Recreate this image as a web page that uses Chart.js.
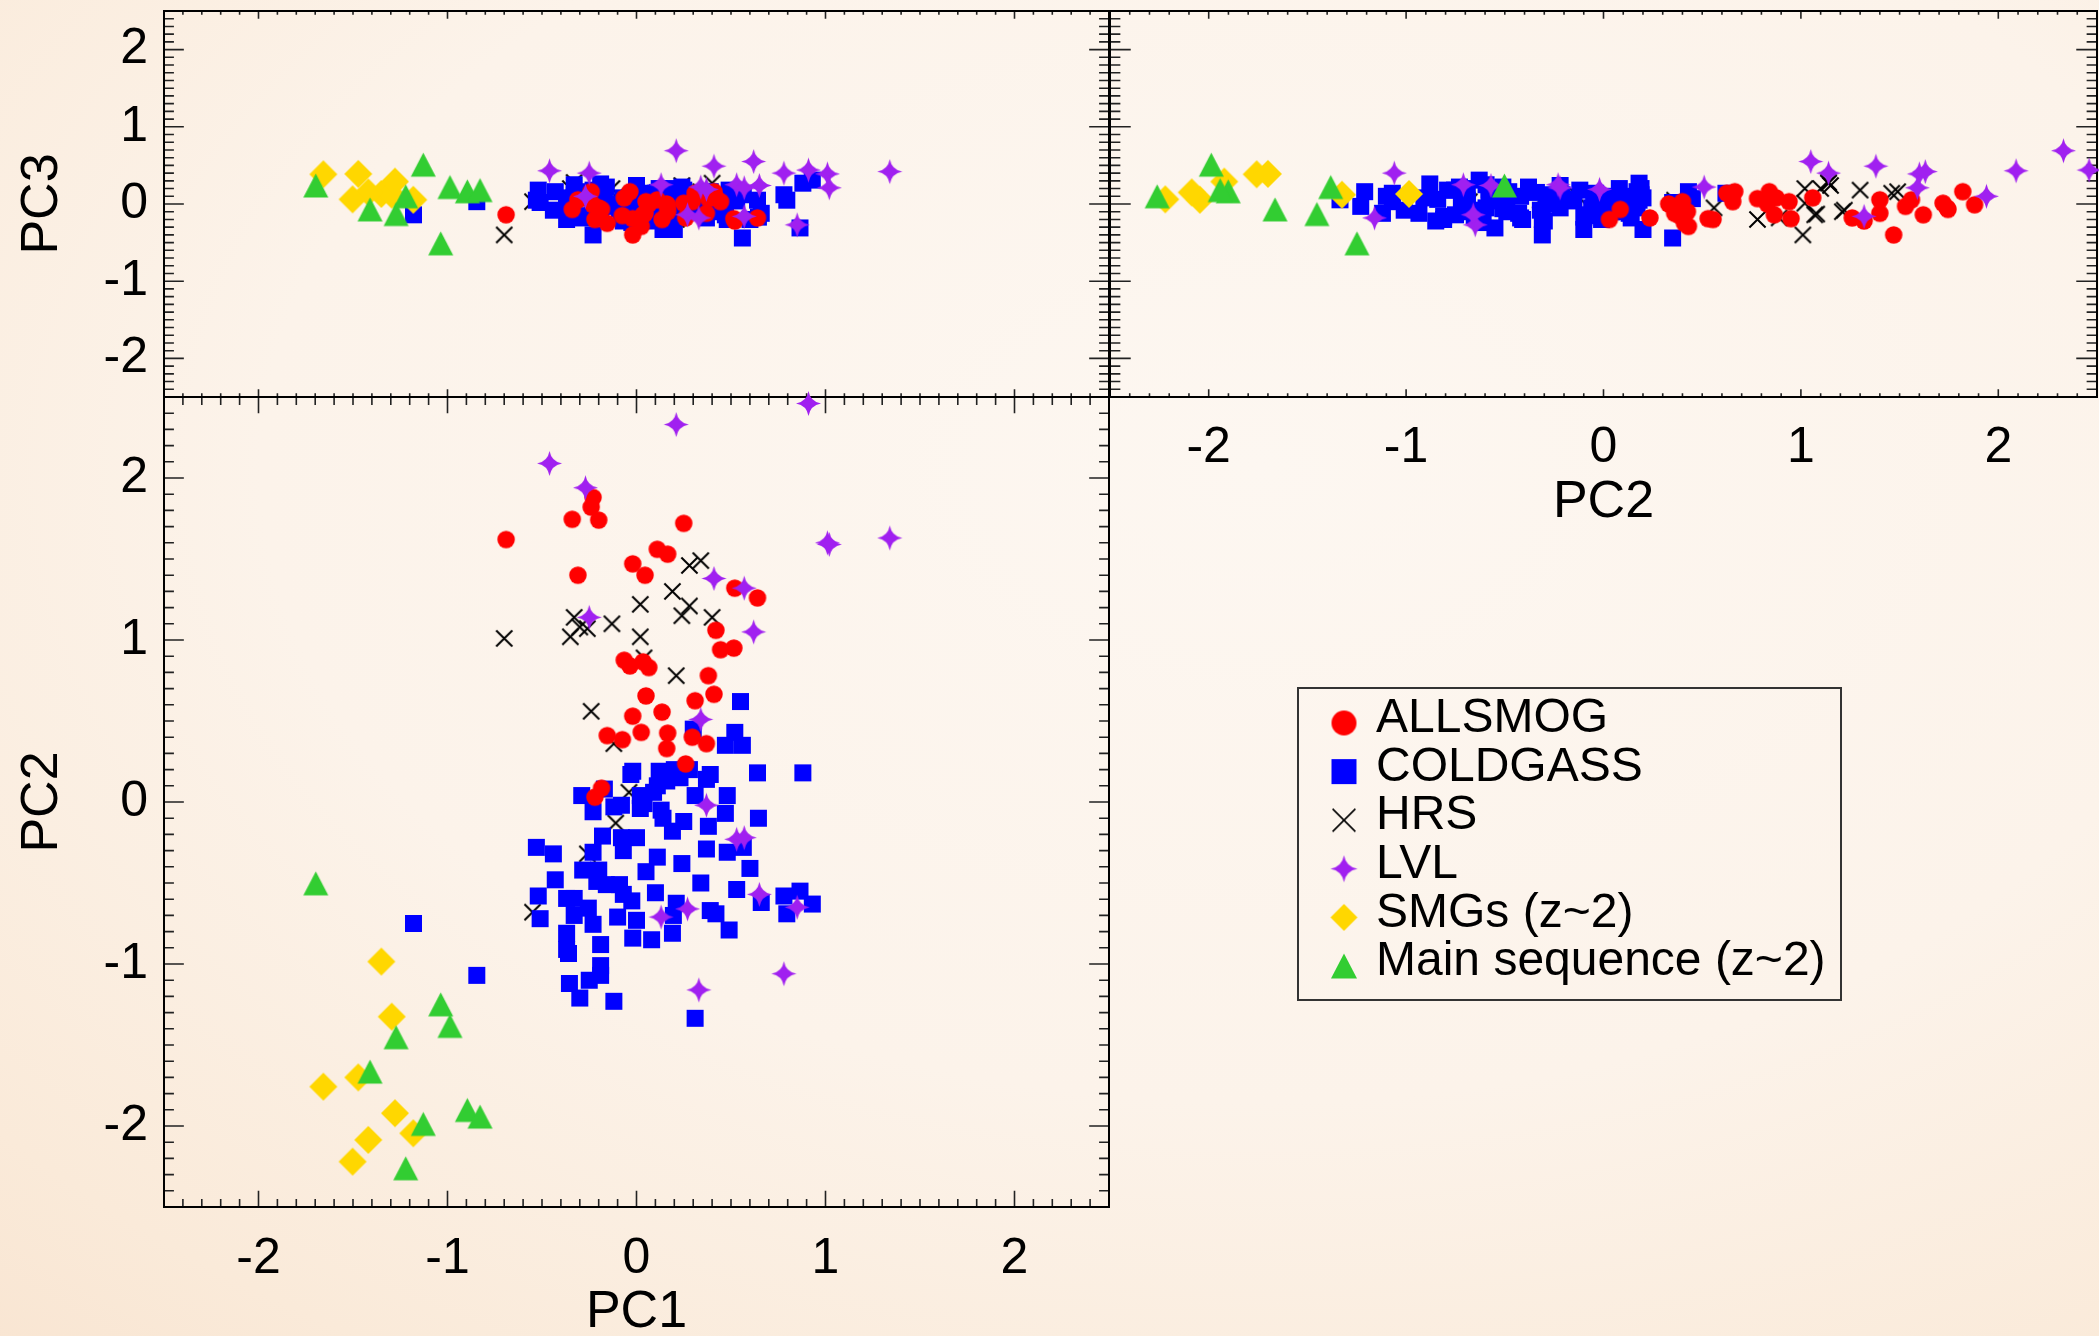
<!DOCTYPE html>
<html>
<head>
<meta charset="utf-8">
<title>PC1 / PC2 / PC3 projections</title>
<script src="https://cdn.jsdelivr.net/npm/chart.js@4.4.1/dist/chart.umd.min.js"></script>
<style>
  html, body { margin: 0; padding: 0; }
  body {
    width: 2099px; height: 1336px; overflow: hidden; position: relative;
    background: radial-gradient(ellipse 95% 95% at 60% 35%, #fdf7f1 0%, #fcf3ea 50%, #faead9 82%, #f8e3cf 100%);
  }
  canvas { position: absolute; left: 0; top: 0; }
</style>
</head>
<body>
<canvas id="pc13" width="2099" height="1336"></canvas>
<canvas id="pc23" width="2099" height="1336"></canvas>
<canvas id="pc12" width="2099" height="1336"></canvas>
<script>
// principal component scores per sample
const ALLSMOG_PC1 = [-0.23, -0.24, -0.34, -0.20, 0.25, -0.69, 0.11, 0.165, -0.02, 0.045, -0.31, 0.52, 0.64, 0.42, 0.445, 0.515, -0.065, -0.035, 0.035, 0.065, 0.38, 0.41, 0.05, 0.31, 0.135, -0.02, -0.155, -0.075, 0.025, 0.165, 0.16, 0.295, 0.37, 0.26, -0.185, -0.22];
const ALLSMOG_PC2 = [1.88, 1.82, 1.745, 1.74, 1.72, 1.62, 1.56, 1.53, 1.47, 1.40, 1.40, 1.32, 1.26, 1.06, 0.94, 0.95, 0.875, 0.84, 0.865, 0.83, 0.78, 0.665, 0.655, 0.625, 0.555, 0.53, 0.41, 0.385, 0.43, 0.425, 0.33, 0.40, 0.36, 0.235, 0.085, 0.03];
const ALLSMOG_PC3 = [-0.01, 0.16, -0.07, -0.05, 0.01, -0.14, 0.055, -0.03, -0.40, -0.12, 0.055, -0.22, -0.18, 0.08, 0.03, -0.19, 0.08, 0.16, -0.14, 0.0, 0.07, 0.16, 0.03, 0.14, -0.20, -0.19, -0.25, -0.15, -0.29, -0.10, 0.0, 0.03, -0.12, -0.18, -0.07, -0.20];

const COLDGASS_PC1 = [0.55, 0.30, 0.52, 0.47, 0.56, 0.64, 0.88, -0.02, -0.03, 0.12, 0.20, 0.28, 0.39, 0.37, 0.23, 0.16, 0.11, 0.09, 0.02, 0.04,
  0.02, 0.13, 0.14, 0.19, 0.25, 0.31, 0.48, 0.47, 0.38, 0.645, -0.29, -0.17, -0.23, -0.12, -0.08, -0.18, -0.08, 0.00, -0.07, -0.23,
  -0.53, -0.44, 0.11, 0.05, 0.24, 0.37, 0.48, 0.565, 0.60, 0.34, -0.285, -0.20, -0.43, -0.21, -0.16, -0.09, -0.07, -0.025, 0.10, 0.21,
  0.195, 0.53, 0.66, 0.78, 0.865, 0.93, 0.795, -0.52, -0.37, -0.33, -0.255, -0.51, -0.33, -0.37, -0.23, -0.10, 0.00, 0.39, 0.42, 0.19,
  -0.02, 0.08, 0.49, -0.37, -0.36, -0.19, -0.19, -0.19, -0.355, -0.25, -0.30, -0.12, 0.31, -0.845, -1.18];
const COLDGASS_PC2 = [0.62, 0.45, 0.43, 0.35, 0.35, 0.18, 0.18, 0.19, 0.17, 0.19, 0.20, 0.20, 0.17, 0.14, 0.15, 0.13, 0.10, 0.06, 0.04, -0.01,
  -0.04, -0.05, -0.10, -0.18, -0.12, 0.04, 0.04, -0.07, -0.15, -0.10, 0.04, 0.08, -0.06, -0.03, -0.02, -0.21, -0.22, -0.22, -0.30, -0.31,
  -0.28, -0.32, -0.34, -0.43, -0.38, -0.29, -0.31, -0.28, -0.41, -0.50, -0.42, -0.42, -0.48, -0.49, -0.51, -0.51, -0.57, -0.61, -0.56, -0.625,
  -0.70, -0.54, -0.62, -0.58, -0.55, -0.63, -0.69, -0.58, -0.595, -0.595, -0.655, -0.72, -0.70, -0.81, -0.755, -0.71, -0.73, -0.67, -0.69, -0.81,
  -0.84, -0.85, -0.79, -0.91, -0.935, -0.88, -1.01, -1.07, -1.12, -1.10, -1.21, -1.23, -1.335, -1.07, -0.75];
const COLDGASS_PC3 = [0.14, 0.07, 0.16, 0.02, -0.44, 0.05, 0.27, 0.12, -0.05, 0.20, -0.33, 0.08, 0.16, -0.18, 0.02, -0.12, 0.10, -0.10, 0.04, -0.20,
  0.14, -0.02, -0.33, 0.06, 0.18, -0.10, 0.10, -0.14, 0.04, -0.17, 0.08, 0.20, -0.05, 0.00, -0.15, 0.12, -0.05, 0.24, -0.22, -0.40,
  0.05, -0.08, 0.15, -0.12, 0.22, 0.00, -0.20, 0.12, -0.20, 0.06, -0.18, 0.10, 0.16, -0.10, 0.22, -0.06, 0.08, -0.24, 0.14, -0.08,
  0.20, 0.04, -0.12, 0.12, -0.31, 0.31, 0.05, 0.18, -0.05, 0.25, -0.15, 0.02, 0.12, -0.20, 0.18, -0.02, 0.22, -0.10, 0.10, -0.16,
  0.06, -0.22, 0.18, 0.08, -0.12, 0.26, -0.08, 0.14, -0.12, 0.10, 0.16, -0.03, 0.055, 0.03, -0.14];

const HRS_PC1 = [0.34, 0.28, 0.19, 0.02, 0.28, 0.24, 0.40, -0.33, -0.35, -0.30, -0.26, -0.13, -0.70, 0.02, 0.04, 0.21, -0.24, -0.12, -0.04, -0.11, -0.26, -0.55];
const HRS_PC2 = [1.49, 1.46, 1.30, 1.22, 1.21, 1.15, 1.14, 1.14, 1.02, 1.08, 1.07, 1.10, 1.01, 1.02, 0.89, 0.78, 0.56, 0.36, 0.06, -0.13, -0.32, -0.68];
const HRS_PC3 = [0.16, 0.14, 0.18, -0.08, -0.10, 0.24, 0.27, 0.28, 0.20, -0.13, -0.14, 0.20, -0.40, 0.01, -0.18, -0.20, -0.05, 0.05, 0.00, 0.10, 0.05, 0.03];

const LVL_PC1 = [0.91, 0.21, -0.46, -0.27, 1.01, 1.02, 1.34, 0.41, 0.57, -0.25, 0.62, 0.34, 0.37, 0.53, 0.57, 0.65, 0.85, 0.13, 0.27, 0.78, 0.33];
const LVL_PC2 = [2.46, 2.33, 2.09, 1.94, 1.60, 1.59, 1.63, 1.38, 1.32, 1.14, 1.05, 0.51, -0.02, -0.23, -0.22, -0.57, -0.65, -0.71, -0.66, -1.06, -1.16];
const LVL_PC3 = [0.44, 0.69, 0.43, 0.10, 0.39, 0.21, 0.42, 0.49, -0.16, 0.40, 0.55, 0.22, 0.19, 0.25, 0.21, 0.24, -0.27, 0.25, -0.14, 0.40, -0.18];

const SMG_PC1 = [-1.35, -1.295, -1.657, -1.472, -1.278, -1.181, -1.419, -1.502];
const SMG_PC2 = [-0.985, -1.325, -1.757, -1.70, -1.921, -2.045, -2.086, -2.22];
const SMG_PC3 = [0.13, 0.12, 0.385, 0.39, 0.29, 0.055, 0.15, 0.06];

const MS_PC1 = [-1.697, -1.036, -0.987, -1.272, -1.41, -0.895, -0.828, -1.128, -1.221];
const MS_PC2 = [-0.502, -1.249, -1.382, -1.452, -1.664, -1.901, -1.942, -1.987, -2.261];
const MS_PC3 = [0.24, -0.51, 0.22, -0.13, -0.07, 0.165, 0.18, 0.51, 0.10];

// every axis runs over the same range with labelled integer ticks
const AXIS_MIN = -2.5;
const AXIS_MAX = 2.5;
const TICK_VALUES = [-2, -1, 0, 1, 2];

const FONT = '"Liberation Sans", Arial, Helvetica, sans-serif';
Chart.defaults.font.family = FONT;

// marker sprites, drawn once and handed to Chart.js as pointStyle
function markerCanvas(shape, color, size, lineW) {
  const c = document.createElement('canvas');
  const pad = 2;
  c.width = c.height = Math.ceil(size) + pad * 2;
  const g = c.getContext('2d');
  g.translate(c.width / 2, c.height / 2);
  g.fillStyle = color;
  g.strokeStyle = color;
  const r = size / 2;
  g.beginPath();
  if (shape === 'circle') {
    g.arc(0, 0, r, 0, Math.PI * 2);
    g.fill();
  } else if (shape === 'square') {
    g.rect(-r, -r, size, size);
    g.fill();
  } else if (shape === 'diamond') {
    g.moveTo(0, -r); g.lineTo(r, 0); g.lineTo(0, r); g.lineTo(-r, 0);
    g.closePath();
    g.fill();
  } else if (shape === 'triangle') {
    const h = r * 0.96;
    g.moveTo(0, -h); g.lineTo(r, h); g.lineTo(-r, h);
    g.closePath();
    g.fill();
  } else if (shape === 'star') {
    const k = r * 0.15;
    g.moveTo(0, -r);
    g.quadraticCurveTo(k, -k, r, 0);
    g.quadraticCurveTo(k, k, 0, r);
    g.quadraticCurveTo(-k, k, -r, 0);
    g.quadraticCurveTo(-k, -k, 0, -r);
    g.fill();
  } else if (shape === 'cross') {
    const q = r * 0.95;
    g.lineWidth = lineW || 2;
    g.moveTo(-q, -q); g.lineTo(q, q);
    g.moveTo(q, -q); g.lineTo(-q, q);
    g.stroke();
  }
  return c;
}

const series = [
  { label: 'ALLSMOG', pc1: ALLSMOG_PC1, pc2: ALLSMOG_PC2, pc3: ALLSMOG_PC3, shape: 'circle', color: '#ff0000', size: 17.5, legendSize: 25, order: 3 },
  { label: 'COLDGASS', pc1: COLDGASS_PC1, pc2: COLDGASS_PC2, pc3: COLDGASS_PC3, shape: 'square', color: '#0000ff', size: 17, legendSize: 25, order: 4 },
  { label: 'HRS', pc1: HRS_PC1, pc2: HRS_PC2, pc3: HRS_PC3, shape: 'cross', color: '#000000', size: 17, legendSize: 24, order: 5 },
  { label: 'LVL', pc1: LVL_PC1, pc2: LVL_PC2, pc3: LVL_PC3, shape: 'star', color: '#a020f0', size: 25, legendSize: 27, order: 2 },
  { label: 'SMGs (z~2)', pc1: SMG_PC1, pc2: SMG_PC2, pc3: SMG_PC3, shape: 'diamond', color: '#ffd700', size: 28, legendSize: 27, order: 1 },
  { label: 'Main sequence (z~2)', pc1: MS_PC1, pc2: MS_PC2, pc3: MS_PC3, shape: 'triangle', color: '#32cd32', size: 25, legendSize: 26, order: 0 }
];
series.forEach(s => {
  s.sprite = markerCanvas(s.shape, s.color, s.size, 2);
  s.legendSprite = markerCanvas(s.shape, s.color, s.legendSize, 1.6);
});

// box with inward major/minor ticks on all four sides
const framePlugin = {
  id: 'frame',
  beforeDatasetsDraw(chart) {
    const { ctx, chartArea: a, scales: { x, y } } = chart;
    const w = a.right - a.left, h = a.bottom - a.top;
    const xMajor = 0.02 * h, yMajor = 0.021 * w;
    ctx.save();
    ctx.strokeStyle = '#222';
    ctx.lineWidth = 1.6;
    ctx.beginPath();
    for (let i = -24; i <= 24; i++) {
      const v = i / 10;
      const major = i % 10 === 0;
      const lx = major ? xMajor : xMajor / 2;
      const ly = major ? yMajor : yMajor / 2;
      const px = x.getPixelForValue(v), py = y.getPixelForValue(v);
      ctx.moveTo(px, a.bottom); ctx.lineTo(px, a.bottom - lx);
      ctx.moveTo(px, a.top); ctx.lineTo(px, a.top + lx);
      ctx.moveTo(a.left, py); ctx.lineTo(a.left + ly, py);
      ctx.moveTo(a.right, py); ctx.lineTo(a.right - ly, py);
    }
    ctx.stroke();
    ctx.strokeStyle = '#000';
    ctx.lineWidth = 2;
    ctx.strokeRect(a.left, a.top, w, h);
    ctx.restore();
  }
};

// framed legend in the empty lower-right corner
const legendPlugin = {
  id: 'boxLegend',
  afterDraw(chart) {
    const ctx = chart.ctx;
    const box = { left: 1298, top: 688, width: 543, height: 312 };
    ctx.save();
    ctx.strokeStyle = '#333';
    ctx.lineWidth = 2;
    ctx.strokeRect(box.left, box.top, box.width, box.height);
    ctx.font = '48px ' + FONT;
    ctx.fillStyle = '#000';
    ctx.textBaseline = 'middle';
    ctx.textAlign = 'left';
    series.forEach((s, i) => {
      const rowY = 719 + i * 48.6;
      const img = s.legendSprite;
      ctx.drawImage(img, 1344 - img.width / 2, rowY + 4 - img.height / 2);
      ctx.fillText(s.label, 1376, rowY);
    });
    ctx.restore();
  }
};

function axisOptions(cfg) {
  const opts = {
    type: 'linear',
    position: cfg.position,
    min: AXIS_MIN,
    max: AXIS_MAX,
    display: cfg.show,
    grid: { display: false, drawTicks: false },
    border: { display: false },
    afterBuildTicks: scale => {
      scale.ticks = TICK_VALUES.map(v => ({ value: v }));
    },
    ticks: {
      padding: cfg.labelPad,
      color: '#000',
      font: { size: 50 },
      autoSkip: false,
      maxRotation: 0,
      callback: v => String(v)
    },
    title: cfg.title
      ? { display: true, text: cfg.title, color: '#000', font: { size: 52, lineHeight: 0.8 }, padding: cfg.titlePad }
      : { display: false },
    // fixed axis box; labels sit well inside the range so no edge padding is needed
    afterFit: scale => {
      if (cfg.fit != null) {
        if (scale.isHorizontal()) scale.height = cfg.fit;
        else scale.width = cfg.fit;
      }
      scale.paddingTop = 0;
      scale.paddingBottom = 0;
      scale.paddingLeft = 0;
      scale.paddingRight = 0;
    }
  };
  return opts;
}

function makePanel(id, xKey, yKey, padding, xCfg, yCfg, extra) {
  return new Chart(document.getElementById(id), {
    type: 'scatter',
    data: {
      datasets: series.map(s => ({
        label: s.label,
        data: s[xKey].map((v, i) => ({ x: v, y: s[yKey][i] })),
        pointStyle: s.sprite,
        pointRadius: 12,
        order: s.order,
        clip: false
      }))
    },
    options: {
      responsive: false,
      animation: false,
      events: [],
      devicePixelRatio: 1,
      layout: { padding, autoPadding: false },
      plugins: { legend: { display: false }, tooltip: { enabled: false } },
      scales: { x: axisOptions(xCfg), y: axisOptions(yCfg) }
    },
    plugins: [framePlugin].concat(extra || [])
  });
}

// PC1 vs PC3 (upper left)
makePanel('pc13', 'pc1', 'pc3',
  { left: 0, top: 11, right: 990, bottom: 939 },
  { position: 'bottom', show: false },
  { position: 'left', show: true, fit: 164, labelPad: 16, title: 'PC3', titlePad: { top: 22, bottom: 0 } });

// PC2 vs PC3 (upper right)
makePanel('pc23', 'pc2', 'pc3',
  { left: 1110, top: 11, right: 2, bottom: 799 },
  { position: 'bottom', show: true, fit: 140, labelPad: 21, title: 'PC2', titlePad: { top: 0, bottom: 14 } },
  { position: 'left', show: false });

// PC1 vs PC2 (lower left) with the legend
makePanel('pc12', 'pc1', 'pc2',
  { left: 0, top: 397, right: 990, bottom: 0 },
  { position: 'bottom', show: true, fit: 129, labelPad: 22, title: 'PC1', titlePad: { top: 0, bottom: 3 } },
  { position: 'left', show: true, fit: 164, labelPad: 16, title: 'PC2', titlePad: { top: 22, bottom: 0 } },
  [legendPlugin]);
</script>
</body>
</html>
